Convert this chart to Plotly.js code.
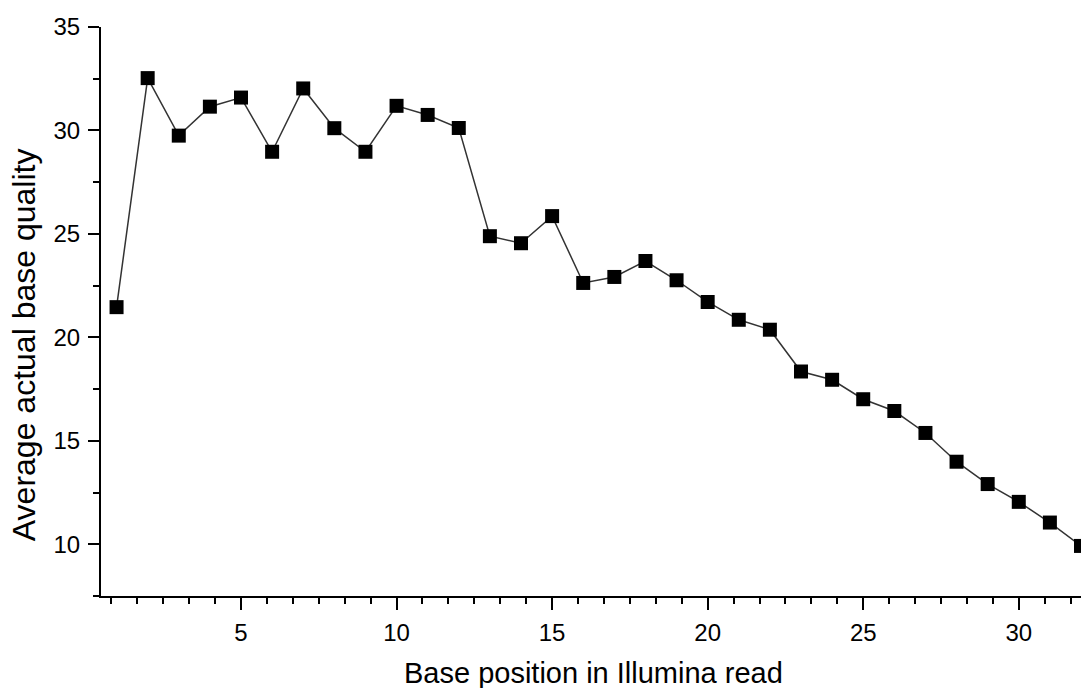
<!DOCTYPE html>
<html>
<head>
<meta charset="utf-8">
<script src="https://cdn.plot.ly/plotly-3.0.1.min.js"></script>
<style>
  html, body { margin: 0; padding: 0; background: #ffffff; overflow: hidden; }
  #chart { width: 1081px; height: 688px; }
</style>
</head>
<body>
<div id="chart"></div>
<script>
// Base position along the read (cycle number)
const positions = [1, 2, 3, 4, 5, 6, 7, 8, 9, 10, 11, 12, 13, 14, 15, 16,
                   17, 18, 19, 20, 21, 22, 23, 24, 25, 26, 27, 28, 29, 30, 31, 32];

// Average actual base quality at each position
const avgQuality = [21.46, 32.53, 29.75, 31.15, 31.59, 28.97, 32.03, 30.11,
                    28.97, 31.19, 30.75, 30.12, 24.89, 24.55, 25.86, 22.63,
                    22.92, 23.69, 22.76, 21.71, 20.85, 20.37, 18.35, 17.95,
                    17.01, 16.44, 15.38, 13.99, 12.91, 12.05, 11.05, 9.92];

const xTickVals = [5, 10, 15, 20, 25, 30];
const yTickVals = [10, 15, 20, 25, 30, 35];

const xTitle = 'Base position in Illumina read';
const yTitle = 'Average actual base quality';

const font = 'Liberation Sans, Arial, sans-serif';

const trace = {
  x: positions,
  y: avgQuality,
  type: 'scatter',
  mode: 'lines+markers',
  cliponaxis: false,
  line: { color: '#333333', width: 1.5 },
  marker: { symbol: 'square', size: 14, color: '#000000', line: { width: 0 } },
  hoverinfo: 'x+y'
};

const layout = {
  width: 1081,
  height: 688,
  margin: { l: 101, r: 0, t: 27, b: 92, pad: 0 },
  paper_bgcolor: '#ffffff',
  plot_bgcolor: '#ffffff',
  showlegend: false,
  font: { family: font, color: '#000000' },
  xaxis: {
    range: [0.5, 32.0],
    tickmode: 'array',
    tickvals: xTickVals,
    ticktext: xTickVals.map(String),
    ticks: 'outside',
    ticklen: 12,
    tickwidth: 2,
    tickcolor: '#000000',
    ticklabelstandoff: 2,
    minor: { tick0: 0, dtick: 5 / 6, ticks: 'outside', ticklen: 6, tickwidth: 2, tickcolor: '#000000', showgrid: false },
    showline: true,
    linecolor: '#000000',
    linewidth: 2,
    showgrid: false,
    zeroline: false,
    tickfont: { family: font, size: 24, color: '#000000' }
  },
  yaxis: {
    range: [7.5, 35],
    tickmode: 'array',
    tickvals: yTickVals,
    ticktext: yTickVals.map(String),
    ticks: 'outside',
    ticklen: 11,
    tickwidth: 2,
    tickcolor: '#000000',
    ticklabelstandoff: 3,
    minor: { tick0: 0, dtick: 2.5, ticks: 'outside', ticklen: 6, tickwidth: 2, tickcolor: '#000000', showgrid: false },
    showline: true,
    linecolor: '#000000',
    linewidth: 2,
    showgrid: false,
    zeroline: false,
    tickfont: { family: font, size: 24, color: '#000000' }
  },
  annotations: [
    {
      // horizontal axis title, near the bottom edge
      text: xTitle,
      xref: 'paper', yref: 'paper',
      x: 0.5026, y: -0.1353,
      xanchor: 'center', yanchor: 'middle',
      showarrow: false,
      font: { family: font, size: 29, color: '#000000' }
    },
    {
      // vertical axis title, sitting a little below the plot's mid-height
      text: yTitle,
      textangle: -90,
      xref: 'paper', yref: 'paper',
      x: -0.0785, y: 0.441,
      xanchor: 'center', yanchor: 'middle',
      showarrow: false,
      font: { family: font, size: 32, color: '#000000' }
    }
  ]
};

Plotly.newPlot('chart', [trace], layout, { displayModeBar: false, staticPlot: true });
</script>
</body>
</html>
